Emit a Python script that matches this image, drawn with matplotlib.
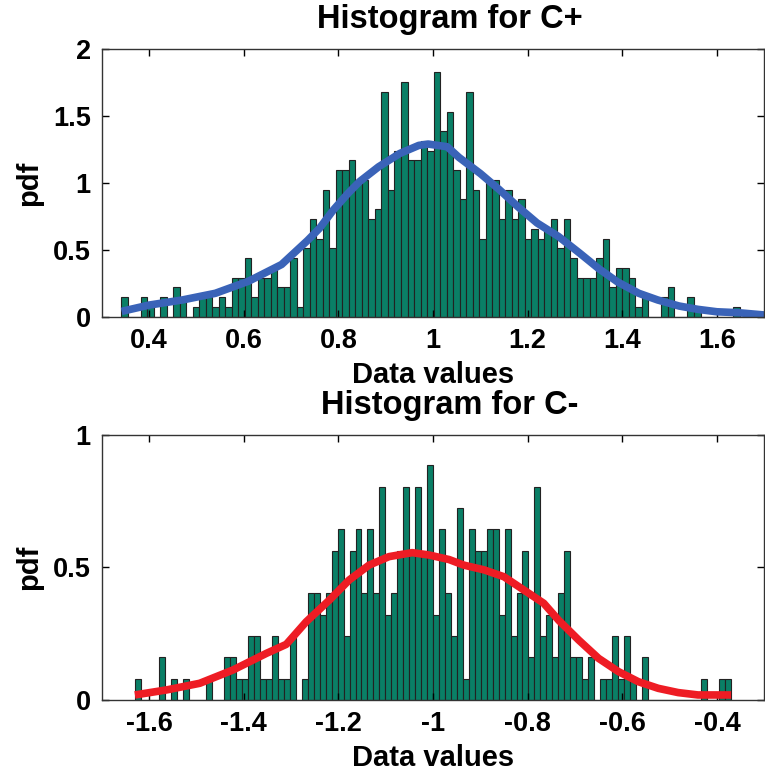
import numpy as np
import matplotlib
matplotlib.use("Agg")
import matplotlib.pyplot as plt

plt.rcParams['font.family'] = ['Liberation Sans', 'DejaVu Sans']
plt.rcParams['font.weight'] = 'bold'
plt.rcParams['axes.unicode_minus'] = False

# ---- C+ histogram (100 bins) ----
cp_bin_start = 0.3407
cp_bin_width = 0.01376
cp_pdf_per_count = 0.073
cp_counts = [2, 0, 0, 2, 1, 0, 2, 0, 3, 2,
             0, 1, 2, 2, 1, 2, 1, 4, 4, 6,
             2, 4, 4, 5, 3, 3, 6, 1, 7, 10,
             8, 13, 7, 15, 15, 16, 14, 14, 10, 11,
             23, 13, 17, 24, 16, 16, 18, 17, 25, 19,
             21, 15, 12, 23, 13, 8, 14, 14, 10, 13,
             10, 12, 8, 9, 8, 9, 10, 7, 10, 6,
             4, 4, 4, 6, 8, 3, 5, 5, 4, 1,
             2, 0, 0, 2, 3, 0, 0, 2, 1, 0,
             0, 0, 0, 0, 1, 0, 0, 0, 0, 0]
# density curve
cp_curve_x = [0.342, 0.40, 0.47, 0.54, 0.61, 0.68, 0.735, 0.76, 0.79, 0.82,
              0.845, 0.885, 0.93, 0.97, 0.99, 1.03, 1.055, 1.10, 1.14, 1.18,
              1.22, 1.265, 1.31, 1.35, 1.39, 1.435, 1.475, 1.52, 1.56, 1.60,
              1.645, 1.70]
cp_curve_y = [0.04, 0.087, 0.125, 0.175, 0.265, 0.39, 0.57, 0.66, 0.80, 0.92,
              1.01, 1.12, 1.22, 1.28, 1.29, 1.27, 1.19, 1.07, 0.95, 0.82,
              0.70, 0.60, 0.475, 0.36, 0.26, 0.175, 0.125, 0.08, 0.055, 0.037,
              0.03, 0.013]

# ---- C- histogram (100 bins) ----
cm_bin_start = -1.6299
cm_bin_width = 0.0126
cm_pdf_per_count = 0.0805
cm_counts = [1, 0, 0, 0, 2, 0, 1, 0, 1, 0,
             0, 0, 1, 0, 0, 2, 2, 1, 1, 3,
             3, 1, 1, 3, 1, 1, 3, 0, 1, 5,
             5, 4, 5, 7, 8, 3, 7, 8, 5, 8,
             5, 10, 4, 5, 7, 10, 7, 10, 7, 11,
             4, 8, 5, 3, 9, 1, 8, 7, 7, 8,
             8, 4, 8, 3, 5, 7, 2, 10, 3, 4,
             2, 5, 7, 2, 2, 1, 2, 0, 1, 1,
             3, 1, 3, 1, 0, 2, 0, 0, 0, 0,
             0, 0, 0, 0, 0, 1, 0, 0, 1, 1]
cm_curve_x = [-1.630, -1.563, -1.493, -1.423, -1.352, -1.31, -1.268, -1.219,
              -1.177, -1.135, -1.093, -1.044, -1.008, -0.966, -0.935, -0.892,
              -0.850, -0.808, -0.766, -0.734, -0.692, -0.650, -0.608, -0.566,
              -0.524, -0.482, -0.440, -0.370]
cm_curve_y = [0.019, 0.038, 0.063, 0.113, 0.176, 0.21, 0.295, 0.377,
              0.453, 0.509, 0.541, 0.556, 0.547, 0.53, 0.509, 0.491,
              0.465, 0.415, 0.365, 0.30, 0.226, 0.157, 0.107, 0.069,
              0.044, 0.028, 0.019, 0.019]

bar_color = '#0a7f66'
tick_fs = 19.5
label_fs = 21
title_fs = 23.5

fig = plt.figure(figsize=(7.65, 7.71), dpi=100)
ax1 = fig.add_axes([0.133, 0.5892, 0.866, 0.3472])
ax2 = fig.add_axes([0.133, 0.0921, 0.866, 0.3437])


def draw(ax, start, width, counts, scale, cx, cy, line_color, title,
         xlim, ylim, xticks, yticks):
    counts = np.array(counts)
    left = start + width * np.arange(len(counts))
    ax.bar(left, counts * scale, width=width, align='edge',
           color=bar_color, edgecolor='#222222', linewidth=0.8)
    ax.plot(cx, cy, color=line_color, linewidth=5.5, solid_capstyle='butt')
    ax.set_xlim(xlim)
    ax.set_ylim(ylim)
    ax.set_xticks(xticks)
    ax.set_yticks(yticks)
    ax.set_xticklabels(['%g' % t for t in xticks], fontsize=tick_fs, fontweight='bold')
    ax.set_yticklabels(['%g' % t for t in yticks], fontsize=tick_fs, fontweight='bold')
    ax.tick_params(direction='in', top=True, right=True, length=5, width=1,
                   pad=8)
    for s in ax.spines.values():
        s.set_linewidth(1.0)
        s.set_color('#333333')
    ax.set_title(title, fontsize=title_fs, fontweight='bold', pad=15, x=0.525)
    ax.set_xlabel('Data values', fontsize=label_fs, fontweight='bold', labelpad=5)
    ax.set_ylabel('pdf', fontsize=label_fs, fontweight='bold', labelpad=7)


draw(ax1, cp_bin_start, cp_bin_width, cp_counts, cp_pdf_per_count,
     cp_curve_x, cp_curve_y, '#3a63b8', 'Histogram for C+',
     (0.3, 1.7), (0, 2), [0.4, 0.6, 0.8, 1.0, 1.2, 1.4, 1.6],
     [0, 0.5, 1, 1.5, 2])
draw(ax2, cm_bin_start, cm_bin_width, cm_counts, cm_pdf_per_count,
     cm_curve_x, cm_curve_y, '#ee1c24', 'Histogram for C-',
     (-1.7, -0.3), (0, 1), [-1.6, -1.4, -1.2, -1.0, -0.8, -0.6, -0.4],
     [0, 0.5, 1])

fig.savefig('out.png', dpi=100)
